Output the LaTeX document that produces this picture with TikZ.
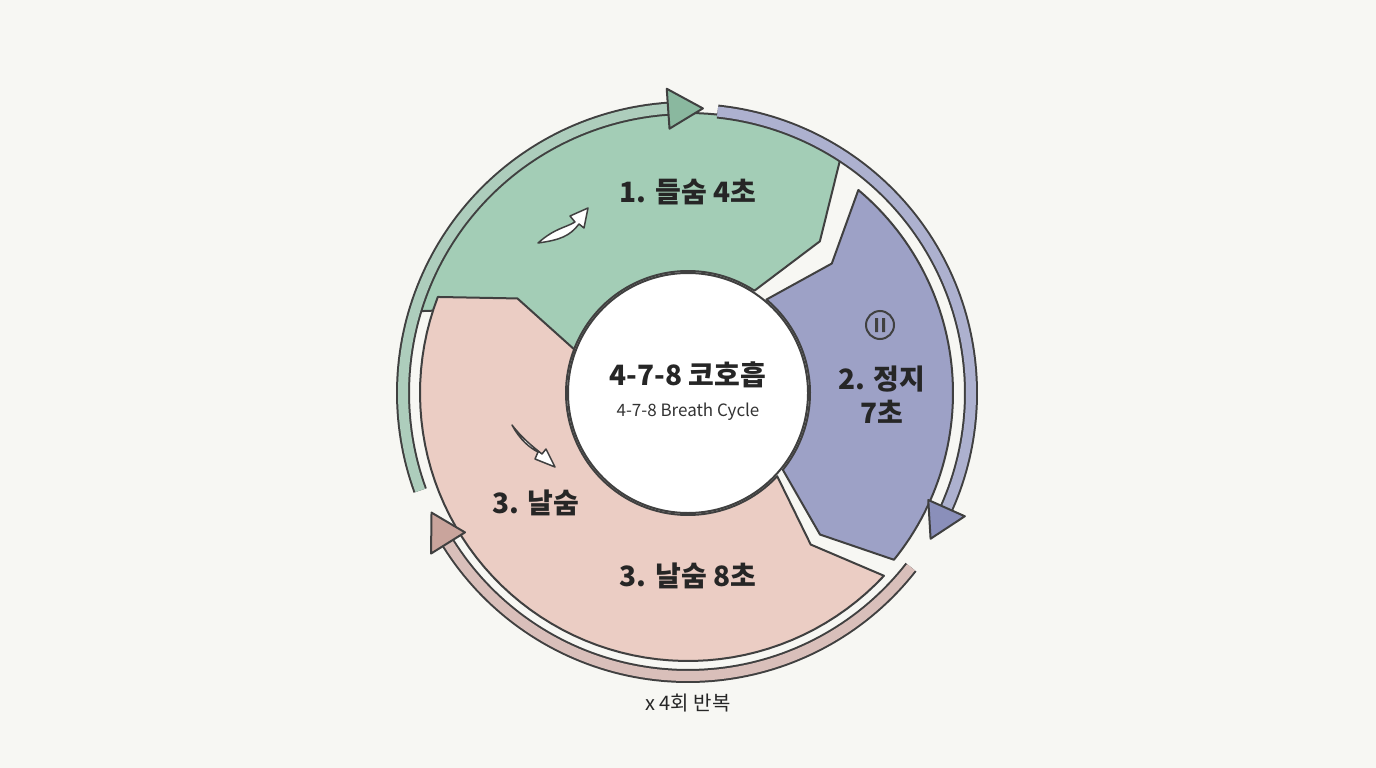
\documentclass[tikz,border=0pt]{standalone}
\usepackage{fontspec}
\setmainfont{Noto Sans CJK KR}
\newfontfamily\kr{Noto Sans CJK KR}
\begin{document}
\begin{tikzpicture}[x=1pt,y=-1pt,
  outl/.style={draw=black!75,line width=2pt,line join=round},
  lbl/.style={font=\kr\bfseries\fontsize{28}{34}\selectfont,text=black!85,align=center}]
\definecolor{bg}{HTML}{F7F7F3}
\definecolor{gr}{HTML}{A3CDB6}
\definecolor{grd}{HTML}{8AB89F}
\definecolor{pu}{HTML}{9DA1C6}
\definecolor{pud}{HTML}{8A8FBA}
\definecolor{pk}{HTML}{EBCDC4}
\definecolor{pkd}{HTML}{C9A49C}
\fill[bg] (0,0) rectangle (1376,768);
\useasboundingbox (0,0) rectangle (1376,768);
\def\cx{688}\def\cy{393}
\newcommand\segm[5]{% a1 a2 Ro Ri color
 \filldraw[outl,fill=#5] plot[domain=#2:#1,samples=60] ({\cx+#3*cos(\x)},{\cy-#3*sin(\x)})
  -- ({\cx+(#3+#4)/2*cos(#1-8)},{\cy-(#3+#4)/2*sin(#1-8)})
  -- plot[domain=#1:#2,samples=60] ({\cx+#4*cos(\x)},{\cy-#4*sin(\x)})
  -- ({\cx+(#3+#4)/2*cos(#2-8)},{\cy-(#3+#4)/2*sin(#2-8)}) -- cycle;}
\segm{57}{163}{280}{122}{gr}
\segm{-39}{50}{265}{122}{pu}
\segm{159}{317}{268}{122}{pk}
\filldraw[outl,fill=white] (\cx,\cy) circle (120);
\newcommand\ring[4]{% start end color radius
 \draw[black!75,line width=14pt] plot[domain=#1:#2,samples=80] ({\cx+#4*cos(\x)},{\cy-#4*sin(\x)});
 \draw[#3,line width=10pt] plot[domain=#1:#2,samples=80] ({\cx+#4*cos(\x)},{\cy-#4*sin(\x)});}
\newcommand\ahead[3]{% angle color radius
 \filldraw[outl,fill=#2] ({\cx+(#3+20)*cos(#1)},{\cy-(#3+20)*sin(#1)})
  -- ({\cx+#3*cos(#1-7)},{\cy-#3*sin(#1-7)})
  -- ({\cx+(#3-20)*cos(#1)},{\cy-(#3-20)*sin(#1)}) -- cycle;}
\ring{200}{94}{grd!70}{285}
\ahead{94}{grd}{285}
\ring{84}{-24}{pud!70}{283}
\ahead{-24}{pud}{283}
\ring{-38}{-148}{pkd!70}{283}
\ahead{-148}{pkd}{283}
% labels
\node[lbl] (l1) at (688,192) {1. 들숨 4초};
\node[lbl] (l2) at (882,395) {2. 정지\\7초};
\node[lbl] (l3) at (688,576) {3. 날숨 8초};
\node[lbl] (l4) at (536,503) {3. 날숨};
\node[lbl] (t) at (688,375) {4-7-8 코호흡};
\node[font=\kr\fontsize{17}{20}\selectfont,text=black!80] (st) at (688,412) {4-7-8 Breath Cycle};
\node[font=\kr\fontsize{20}{24}\selectfont,text=black!85] (rep) at (688,703) {x 4회 반복};
% pause icon
\node[circle,draw=black!75,line width=2pt,minimum size=28pt,inner sep=0] (pz) at (880,325) {};
\fill[black!75] (875,318) rectangle (878,332) (882,318) rectangle (885,332);
% small curved arrows
\filldraw[draw=black!75,line width=1.5pt,fill=white,line join=round]
 (538,243) .. controls (555,228) and (565,228) .. (575,222) -- (570,216) -- (588,208) -- (584,228) -- (579,224)
 .. controls (570,236) and (560,240) .. (538,243) -- cycle;
\filldraw[draw=black!75,line width=1.5pt,fill=white,line join=round]
 (512,425) .. controls (520,440) and (530,448) .. (538,452) -- (535,459) -- (555,467) -- (546,449) -- (542,454)
 .. controls (532,446) and (522,438) .. (512,425) -- cycle;
\end{tikzpicture}
\end{document}
